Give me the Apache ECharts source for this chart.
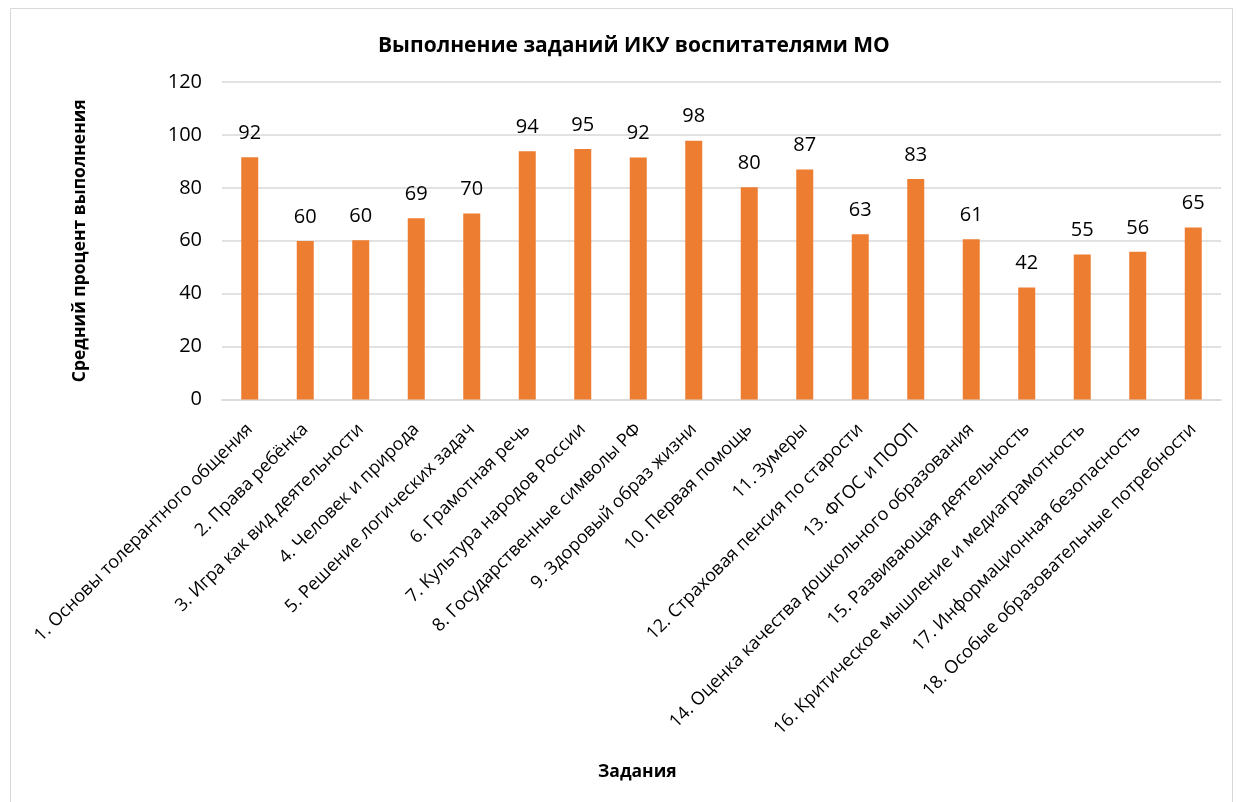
<!DOCTYPE html>
<html>
<head>
<meta charset="utf-8">
<script src="https://cdn.jsdelivr.net/npm/echarts@6/dist/echarts.min.js"></script>
<style>
html,body{margin:0;padding:0;background:#fff;}
#chart{width:1237px;height:802px;}
</style>
</head>
<body>
<div id="chart"></div>
<script>
const categories = [
  "1. Основы толерантного общения",
  "2. Права ребёнка",
  "3. Игра как вид деятельности",
  "4. Человек и природа",
  "5. Решение логических задач",
  "6. Грамотная речь",
  "7. Культура народов России",
  "8. Государственные символы РФ",
  "9. Здоровый образ жизни",
  "10. Первая помощь",
  "11. Зумеры",
  "12. Страховая пенсия по старости",
  "13. ФГОС и ПООП",
  "14. Оценка качества дошкольного образования",
  "15. Развивающая деятельность",
  "16. Критическое мышление и медиаграмотность",
  "17. Информационная безопасность",
  "18. Особые образовательные потребности"
];
const values = [91.6, 59.9, 60.2, 68.5, 70.3, 93.8, 94.7, 91.5, 97.8, 80.2, 86.9, 62.5, 83.3, 60.6, 42.3, 54.8, 55.8, 65.0];
const yTicks = [0, 20, 40, 60, 80, 100, 120];

const FONT = '"Open Sans", Lato, sans-serif';
const chart = echarts.init(document.getElementById('chart'));
chart.setOption({
  animation: false,
  backgroundColor: '#ffffff',
  title: [{
    text: 'Выполнение заданий ИКУ воспитателями МО',
    left: 373,
    top: 31,
    textStyle: { fontFamily: FONT, fontSize: 21, fontWeight: 'bold', color: '#000' }
  }, {
    text: 'Задания',
    left: 593,
    top: 758,
    textStyle: { fontFamily: FONT, fontSize: 17.5, fontWeight: 'bold', color: '#000' }
  }],
  graphic: [{
    type: 'rect',
    shape: { x: 10.5, y: 8.5, width: 1222, height: 800 },
    style: { fill: 'none', stroke: '#d9d9d9', lineWidth: 1 },
    silent: true
  }],
  grid: { left: 222, right: 16, top: 82, bottom: 402.5, containLabel: false },
  xAxis: {
    type: 'category',
    data: categories,
    axisLine: { show: true, lineStyle: { color: '#d9d9d9', width: 1.5 } },
    axisTick: { show: false },
    axisLabel: {
      interval: 0,
      rotate: 45,
      fontFamily: FONT,
      fontSize: 18,
      color: '#000',
      margin: 27
    }
  },
  yAxis: {
    type: 'value',
    min: 0,
    max: 120,
    interval: 20,
    name: 'Средний процент выполнения',
    nameLocation: 'middle',
    nameGap: 133,
    nameRotate: 90,
    nameTextStyle: { fontFamily: FONT, fontSize: 17.5, fontWeight: 'bold', color: '#000' },
    axisLine: { show: false },
    axisTick: { show: false },
    splitLine: { show: true, lineStyle: { color: '#d9d9d9', width: 1.5 } },
    axisLabel: {
      fontFamily: FONT,
      fontSize: 20,
      color: '#000',
      margin: 20,
      formatter: function (v) { return yTicks.indexOf(v) >= 0 ? String(v) : ''; }
    }
  },
  series: [{
    type: 'bar',
    data: values,
    barWidth: 17,
    itemStyle: { color: '#ED7D31' },
    label: {
      show: true,
      position: 'top',
      distance: 14,
      fontFamily: FONT,
      fontSize: 20,
      color: '#000',
      formatter: function (p) { return Math.round(p.value); }
    }
  }]
});
</script>
</body>
</html>
